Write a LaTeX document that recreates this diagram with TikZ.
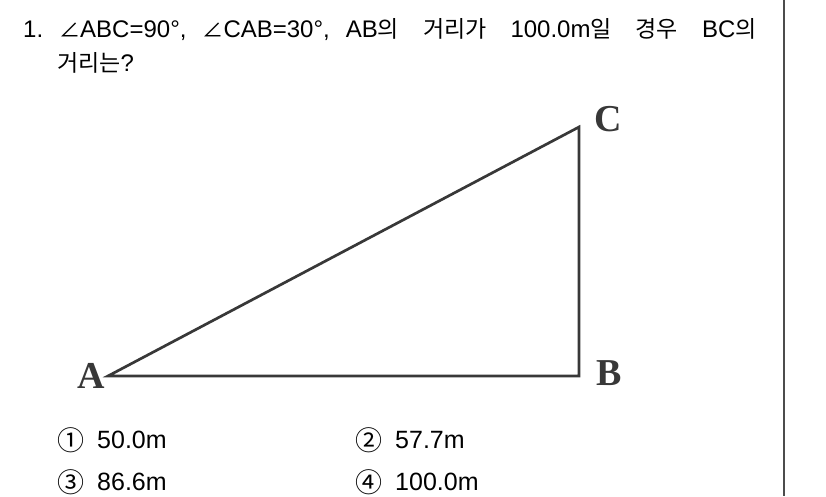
\documentclass[tikz,border=0pt]{standalone}
\usepackage{fontspec}
\setmainfont{Liberation Sans}
\newfontfamily\krfont{Noto Sans CJK KR}
\newfontfamily\figfont{Liberation Serif}
\newcommand{\kr}[1]{{\krfont\fontsize{23}{28}\selectfont #1}}
\newcommand{\angsym}{{\krfont\fontsize{21}{24}\selectfont ∠}}
\newcommand{\gap}{\hspace{24pt}}

\begin{document}
\begin{tikzpicture}[x=1pt,y=-1pt,
  side/.style={line width=2.7pt,draw=black!78,line join=miter},
  vertex label/.style={font=\figfont\bfseries\fontsize{38}{38}\selectfont,text=black!78,inner sep=0pt},
  question/.style={anchor=west,inner sep=0pt,font=\fontsize{24}{28}\selectfont},
  circ num/.style={inner sep=0pt,font=\krfont\fontsize{27}{30}\selectfont},
  choice/.style={anchor=west,inner sep=0pt,font=\fontsize{25}{28}\selectfont}]
		\useasboundingbox (0,0) rectangle (826,496);
		\draw[line width=2pt,black!70] (784,0) -- (784,496);

		% question text
		\node[question] (q1) at (23,30) {1.\hspace{16pt}\angsym ABC=90°,\hspace{16pt}\angsym CAB=30°,\hspace{16pt}AB\kr{의}\gap\kr{거리가}\gap100.0m\kr{일}\gap\kr{경우}\gap BC\kr{의}};
		\node[question] (q2) at (57,63) {\kr{거리는}?};

		% triangle
		\coordinate (A) at (108,376);
		\coordinate (B) at (579,376);
		\coordinate (C) at (579,127);
		\draw[side] (A) -- (B) -- (C) -- cycle;
		\node[vertex label] (la) at (91,376) {A};
		\node[vertex label] (lb) at (609,373) {B};
		\node[vertex label] (lc) at (608,119) {C};

		% answers
		\node[circ num] (n1) at (71,440) {①};
		\node[choice] (v1) at (97,440) {50.0m};
		\node[circ num] (n2) at (369,440) {②};
		\node[choice] (v2) at (395,440) {57.7m};
		\node[circ num] (n3) at (71,482) {③};
		\node[choice] (v3) at (97,482) {86.6m};
		\node[circ num] (n4) at (369,482) {④};
		\node[choice] (v4) at (395,482) {100.0m};
\end{tikzpicture}
\end{document}
